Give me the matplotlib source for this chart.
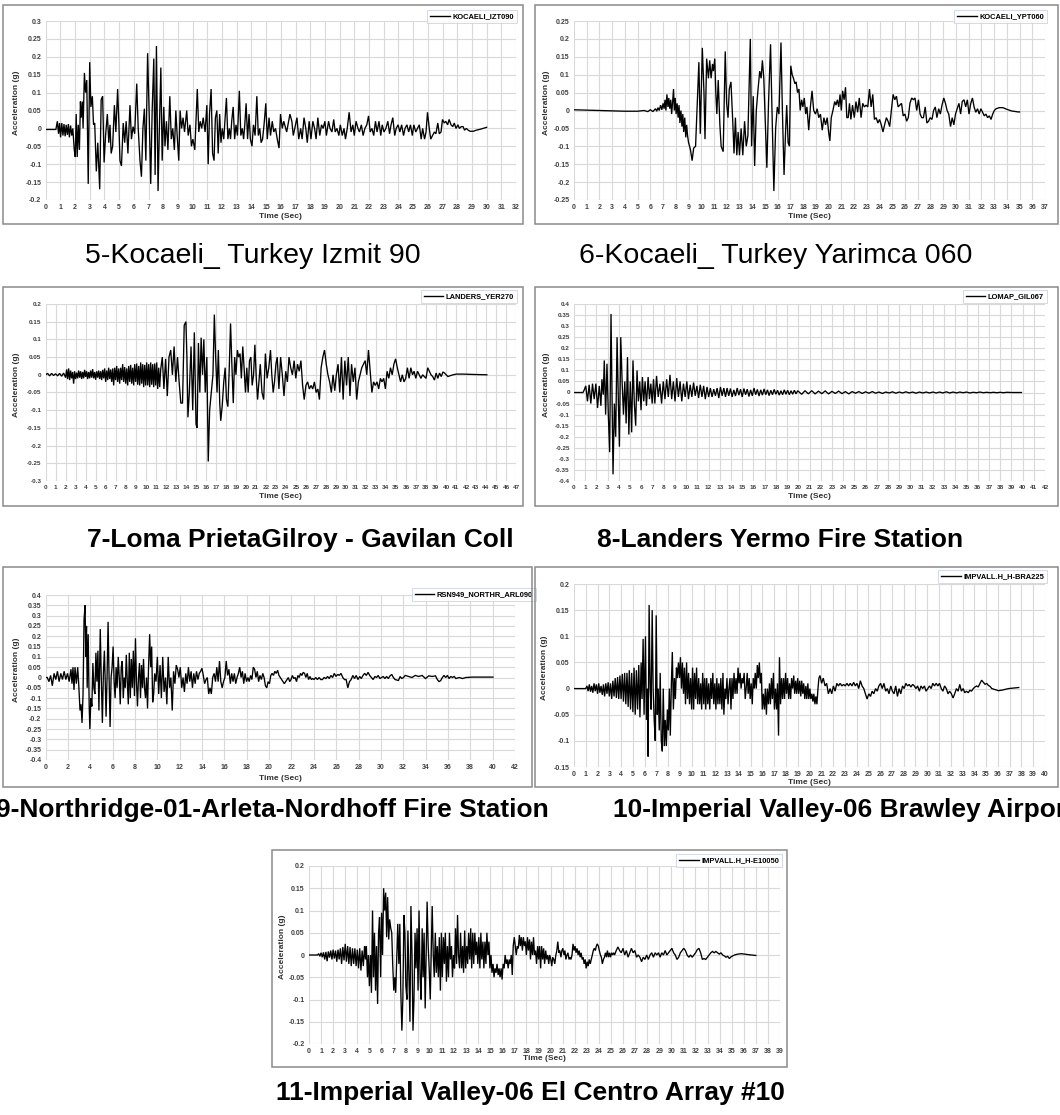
import matplotlib
matplotlib.use("Agg")
import matplotlib.pyplot as plt
from matplotlib.patches import Rectangle
from matplotlib.lines import Line2D
import numpy as np

# ---------------- data: (time s, acceleration g) ----------------
rec5 = [(0,-0.003),(0.7,-0.003),(0.8,0.02),(0.88,-0.015),(0.95,0.015),(1.02,-0.025),(1.1,0.015),(1.18,-0.02),(1.25,0.012),(1.33,-0.022),(1.4,0.01),(1.48,-0.018),(1.55,0.012),(1.62,-0.025),(1.7,0.008),(1.78,-0.02),(1.85,0.0),(1.95,-0.06),(2.02,-0.08),(2.08,0.04),(2.15,-0.08),(2.22,0.01),(2.3,-0.06),(2.37,0.075),(2.42,0.03),(2.5,0.075),(2.55,0.0),(2.64,0.155),(2.72,0.1),(2.8,0.135),(2.9,-0.155),(3.0,0.185),(3.08,0.06),(3.18,0.09),(3.26,0.01),(3.34,0.015),(3.45,-0.12),(3.55,-0.04),(3.68,-0.17),(3.78,0.08),(3.88,0.09),(3.98,-0.095),(4.08,-0.02),(4.2,0.04),(4.3,-0.04),(4.38,0.01),(4.46,-0.07),(4.56,-0.05),(4.68,0.065),(4.78,-0.01),(4.9,0.11),(4.98,0.02),(5.06,-0.09),(5.16,-0.105),(5.28,0.015),(5.38,-0.04),(5.48,0.02),(5.6,-0.07),(5.74,0.065),(5.84,-0.03),(5.95,0.005),(6.06,-0.015),(6.2,0.125),(6.3,0.0),(6.42,-0.09),(6.52,-0.135),(6.62,0.0),(6.72,0.055),(6.82,-0.09),(6.94,0.21),(7.04,0.05),(7.15,-0.155),(7.25,0.05),(7.36,0.195),(7.45,-0.13),(7.54,0.23),(7.65,-0.175),(7.74,0.0),(7.84,0.17),(7.93,-0.09),(8.04,0.06),(8.12,-0.05),(8.22,0.02),(8.32,-0.06),(8.45,0.09),(8.55,-0.03),(8.65,0.0),(8.76,-0.06),(8.86,0.05),(8.95,-0.02),(9.06,-0.09),(9.15,0.05),(9.25,0.0),(9.35,0.03),(9.45,-0.01),(9.6,0.05),(9.7,-0.02),(9.82,0.01),(9.92,-0.05),(10.02,-0.03),(10.15,-0.06),(10.32,0.11),(10.42,-0.01),(10.52,0.02),(10.62,0.0),(10.72,0.03),(10.85,-0.01),(10.97,0.065),(11.06,-0.1),(11.15,0.04),(11.26,0.11),(11.36,-0.07),(11.46,-0.09),(11.55,0.03),(11.65,0.05),(11.74,-0.07),(11.84,0.04),(11.93,-0.04),(12.02,0.0),(12.12,-0.03),(12.2,0.02),(12.3,0.085),(12.4,-0.03),(12.5,0.0),(12.58,-0.03),(12.66,0.02),(12.76,0.06),(12.86,-0.03),(12.95,0.01),(13.05,-0.02),(13.18,0.105),(13.28,-0.02),(13.38,0.0),(13.47,-0.03),(13.55,0.01),(13.64,0.07),(13.74,-0.03),(13.84,0.04),(13.93,-0.03),(14.04,-0.05),(14.14,0.01),(14.25,-0.02),(14.37,0.09),(14.47,-0.02),(14.57,0.0),(14.66,-0.04),(14.76,-0.03),(14.86,0.01),(14.98,0.07),(15.08,-0.03),(15.2,0.03),(15.3,-0.02),(15.42,0.02),(15.52,-0.01),(15.64,0.0),(15.76,-0.03),(15.88,-0.055),(15.98,0.04),(16.1,0.0),(16.2,0.02),(16.4,-0.01),(16.62,0.04),(16.75,0.02),(16.85,-0.02),(17.1,0.03),(17.22,-0.03),(17.35,0.0),(17.45,-0.03),(17.58,0.03),(17.7,0.0),(17.8,-0.04),(17.93,0.02),(18.05,-0.03),(18.18,0.02),(18.3,0.0),(18.4,-0.03),(18.52,0.03),(18.65,-0.02),(18.77,0.01),(18.88,0.0),(19.0,0.02),(19.1,-0.02),(19.25,0.02),(19.35,0.0),(19.48,-0.01),(19.6,0.025),(19.7,-0.01),(19.82,0.0),(19.95,-0.02),(20.05,0.01),(20.18,-0.02),(20.3,0.0),(20.4,-0.03),(20.52,0.0),(20.65,0.045),(20.78,-0.01),(20.9,0.01),(21.0,-0.02),(21.12,0.02),(21.25,0.0),(21.35,-0.01),(21.48,0.01),(21.6,-0.02),(21.72,0.0),(21.85,0.01),(21.97,0.035),(22.08,-0.01),(22.2,0.0),(22.32,-0.02),(22.44,0.02),(22.55,-0.01),(22.68,0.02),(22.8,-0.02),(22.9,0.01),(23.02,-0.01),(23.15,0.0),(23.28,0.02),(23.4,-0.015),(23.5,0.01),(23.62,0.03),(23.75,-0.02),(23.85,0.0),(23.98,0.01),(24.1,-0.01),(24.22,0.01),(24.35,-0.02),(24.45,0.0),(24.58,0.01),(24.7,-0.01),(24.82,0.01),(24.95,-0.02),(25.05,0.01),(25.18,-0.01),(25.3,0.0),(25.42,0.01),(25.55,-0.03),(25.65,0.0),(25.78,-0.03),(25.88,-0.01),(25.98,0.045),(26.1,0.0),(26.2,-0.03),(26.32,-0.02),(26.45,-0.01),(26.55,-0.015),(26.68,0.015),(26.78,-0.015),(26.9,-0.01),(27.0,0.025),(27.12,0.015),(27.22,0.02),(27.35,0.01),(27.45,0.025),(27.58,0.01),(27.7,0.005),(27.8,0.015),(27.92,0.0),(28.05,0.01),(28.15,0.0),(28.28,0.005),(28.4,0.005),(28.5,-0.005),(28.62,0.0),(28.75,-0.005),(28.88,-0.008),(29.1,-0.008),(29.3,-0.005),(29.6,-0.002),(30.0,0.003)]

rec6 = [(0,0.002),(2,0.0),(4,-0.002),(5,-0.002),(5.5,0.0),(5.8,-0.003),(6.0,0.002),(6.2,-0.003),(6.4,0.005),(6.5,-0.002),(6.6,0.008),(6.7,0.0),(6.8,0.015),(6.9,0.002),(7.0,0.02),(7.08,0.005),(7.15,0.03),(7.22,0.0),(7.3,0.045),(7.38,0.01),(7.45,0.035),(7.52,0.005),(7.6,0.03),(7.67,-0.01),(7.75,0.025),(7.82,0.06),(7.88,0.0),(7.95,0.035),(8.02,-0.01),(8.1,0.02),(8.18,-0.02),(8.25,0.015),(8.32,-0.035),(8.4,0.0),(8.48,-0.045),(8.55,-0.01),(8.62,-0.06),(8.7,-0.02),(8.78,-0.075),(8.85,-0.04),(8.92,-0.07),(9.0,-0.09),(9.08,-0.1),(9.15,-0.11),(9.28,-0.14),(9.4,-0.105),(9.55,-0.1),(9.73,0.06),(9.81,0.135),(9.92,-0.065),(10.08,0.175),(10.21,0.05),(10.29,-0.08),(10.42,0.145),(10.56,0.09),(10.66,0.14),(10.77,0.09),(10.88,0.13),(10.95,0.11),(11.06,0.145),(11.14,0.05),(11.22,-0.01),(11.33,0.085),(11.46,-0.04),(11.56,-0.1),(11.72,-0.115),(11.88,0.165),(11.99,0.02),(12.1,-0.02),(12.2,0.06),(12.33,0.08),(12.47,-0.03),(12.57,-0.12),(12.68,-0.02),(12.79,-0.125),(12.89,-0.06),(13.0,-0.125),(13.13,-0.05),(13.26,-0.125),(13.4,-0.03),(13.53,-0.1),(13.66,-0.07),(13.85,0.2),(13.95,-0.1),(14.08,0.04),(14.19,-0.155),(14.32,0.0),(14.46,0.06),(14.59,0.11),(14.7,0.09),(14.8,0.14),(14.91,0.09),(15.04,-0.05),(15.15,-0.16),(15.28,0.02),(15.44,0.185),(15.54,0.02),(15.7,-0.225),(15.84,-0.05),(15.97,0.01),(16.1,-0.01),(16.26,0.19),(16.37,0.0),(16.5,-0.18),(16.63,-0.05),(16.71,0.015),(16.82,-0.09),(16.92,-0.1),(17.03,0.125),(17.14,0.1),(17.24,0.09),(17.35,0.075),(17.45,0.08),(17.56,0.05),(17.67,0.06),(17.77,0.0),(17.88,0.03),(17.98,0.01),(18.09,0.035),(18.2,-0.01),(18.3,0.01),(18.44,-0.055),(18.57,0.01),(18.7,0.055),(18.83,0.0),(18.97,-0.01),(19.1,0.005),(19.23,-0.02),(19.36,-0.01),(19.5,-0.055),(19.63,-0.02),(19.76,-0.04),(19.89,-0.02),(20.0,-0.06),(20.1,-0.085),(20.21,-0.02),(20.34,0.0),(20.48,0.025),(20.58,0.015),(20.69,0.03),(20.8,0.01),(20.9,0.045),(21.0,0.0),(21.1,0.055),(21.22,0.03),(21.33,0.065),(21.43,-0.02),(21.54,-0.02),(21.64,0.02),(21.75,-0.025),(21.88,0.015),(22.02,-0.02),(22.15,0.025),(22.28,-0.005),(22.41,0.035),(22.55,-0.02),(22.68,0.02),(22.81,0.01),(22.94,0.015),(23.08,0.01),(23.21,0.06),(23.34,0.01),(23.47,0.045),(23.6,-0.025),(23.74,-0.02),(23.87,-0.035),(24.0,-0.025),(24.14,-0.04),(24.27,-0.06),(24.4,-0.04),(24.54,-0.02),(24.67,-0.03),(24.8,-0.045),(24.93,0.0),(25.07,0.045),(25.2,0.03),(25.33,0.04),(25.46,0.01),(25.6,0.015),(25.73,0.02),(25.86,-0.015),(26.0,-0.01),(26.13,-0.03),(26.26,-0.02),(26.39,0.02),(26.53,0.035),(26.66,0.03),(26.79,0.035),(26.92,0.0),(27.06,0.03),(27.19,-0.01),(27.32,-0.02),(27.45,-0.02),(27.59,0.01),(27.72,-0.035),(27.85,-0.03),(27.98,-0.02),(28.12,-0.025),(28.25,0.0),(28.38,0.01),(28.51,-0.02),(28.65,0.005),(28.78,-0.01),(28.91,0.015),(29.05,0.035),(29.18,0.02),(29.31,0.0),(29.44,-0.01),(29.58,-0.045),(29.71,-0.02),(29.84,-0.04),(29.97,-0.01),(30.1,0.005),(30.24,0.02),(30.37,-0.01),(30.5,0.025),(30.64,0.03),(30.77,0.01),(30.9,0.03),(31.03,-0.01),(31.17,0.02),(31.3,0.035),(31.43,0.01),(31.56,-0.005),(31.7,0.005),(31.83,-0.01),(31.96,0.005),(32.1,-0.005),(32.23,-0.015),(32.36,-0.01),(32.49,-0.02),(32.63,-0.015),(32.76,-0.025),(32.89,-0.01),(33.02,0.0),(33.16,0.005),(33.42,0.008),(33.69,0.008),(33.95,0.004),(34.35,-0.001),(34.88,-0.004),(35.0,-0.004)]

rec7 = [(0,0.0),(0.2,0.004),(0.4,-0.003),(0.6,0.004),(0.8,-0.002),(1.0,0.003),(1.2,-0.003),(1.4,0.004),(1.6,-0.004),(1.8,0.005),(2.0,-0.008),(2.1,0.015),(2.2,-0.012),(2.3,0.018),(2.4,-0.015),(2.5,0.012),(2.6,-0.01),(2.7,0.008),(2.8,-0.025),(2.9,0.01),(3.0,-0.012),(3.1,0.006),(3.2,-0.01),(3.3,0.012),(3.4,-0.008),(3.5,0.01),(3.6,-0.012),(3.7,0.008),(3.8,-0.01),(3.9,0.014),(4.0,-0.006),(4.1,0.01),(4.2,-0.012),(4.3,0.008),(4.4,-0.01),(4.5,0.012),(4.6,-0.008),(4.7,0.016),(4.8,-0.01),(4.9,0.008),(5.0,-0.014),(5.1,0.01),(5.2,-0.008),(5.3,0.012),(5.4,-0.012),(5.5,0.01),(5.6,-0.015),(5.7,0.014),(5.8,-0.01),(5.9,0.018),(6.0,-0.02),(6.1,0.012),(6.2,-0.015),(6.3,0.02),(6.4,-0.012),(6.5,0.015),(6.6,-0.02),(6.7,0.018),(6.8,-0.03),(6.9,0.02),(7.0,-0.015),(7.1,0.025),(7.2,-0.02),(7.3,0.018),(7.4,-0.025),(7.5,0.02),(7.6,-0.015),(7.7,0.03),(7.8,-0.02),(7.9,0.022),(8.0,-0.025),(8.1,0.018),(8.2,-0.03),(8.3,0.025),(8.4,-0.02),(8.5,0.028),(8.6,-0.025),(8.7,0.02),(8.8,-0.03),(8.9,0.03),(9.0,-0.02),(9.1,0.032),(9.2,-0.028),(9.3,0.025),(9.4,-0.03),(9.5,0.035),(9.6,-0.025),(9.7,0.03),(9.8,-0.035),(9.9,0.028),(10.0,-0.03),(10.1,0.035),(10.2,-0.03),(10.3,0.03),(10.4,-0.035),(10.5,0.035),(10.6,-0.028),(10.7,0.03),(10.8,-0.035),(10.9,0.032),(11.0,-0.03),(11.1,0.035),(11.2,-0.04),(11.3,0.02),(11.4,-0.035),(11.5,0.015),(11.66,0.05),(11.82,-0.04),(11.99,0.045),(12.16,-0.06),(12.33,0.05),(12.5,0.07),(12.67,0.0),(12.84,0.08),(13.01,-0.02),(13.18,0.05),(13.34,-0.02),(13.51,-0.08),(13.68,-0.08),(13.85,0.14),(14.02,0.15),(14.12,0.05),(14.22,-0.12),(14.36,-0.05),(14.53,0.08),(14.7,-0.1),(14.86,0.12),(15.03,-0.14),(15.14,-0.15),(15.27,0.09),(15.41,-0.05),(15.54,0.105),(15.68,0.0),(15.81,0.1),(15.95,-0.05),(16.11,0.05),(16.25,-0.245),(16.39,-0.1),(16.55,-0.05),(16.72,0.0),(16.86,0.17),(16.99,0.05),(17.13,-0.05),(17.26,0.07),(17.4,-0.08),(17.5,-0.13),(17.64,-0.09),(17.8,-0.02),(17.94,0.02),(18.07,-0.07),(18.21,-0.09),(18.34,0.01),(18.48,0.145),(18.61,0.03),(18.75,-0.08),(18.89,0.05),(19.02,0.0),(19.16,0.07),(19.29,0.05),(19.43,0.06),(19.56,-0.01),(19.7,0.08),(19.83,0.02),(19.97,-0.05),(20.1,0.02),(20.24,-0.05),(20.37,0.04),(20.51,0.05),(20.64,-0.03),(20.78,0.0),(20.91,0.085),(21.05,-0.01),(21.18,-0.07),(21.32,-0.02),(21.45,0.03),(21.62,-0.05),(21.79,-0.07),(21.96,0.06),(22.13,-0.01),(22.3,0.02),(22.47,0.07),(22.6,0.0),(22.74,-0.05),(22.87,-0.02),(23.01,0.03),(23.14,0.05),(23.31,-0.04),(23.48,0.05),(23.65,0.0),(23.82,-0.06),(23.99,0.01),(24.16,-0.02),(24.32,0.05),(24.49,0.02),(24.66,0.0),(24.83,0.04),(25.0,-0.01),(25.17,0.03),(25.34,0.01),(25.51,0.04),(25.68,-0.03),(25.84,-0.07),(26.01,-0.03),(26.18,-0.02),(26.35,-0.04),(26.52,-0.03),(26.69,-0.04),(26.86,-0.02),(27.03,-0.05),(27.2,-0.04),(27.36,-0.07),(27.53,0.02),(27.7,0.05),(27.87,0.07),(28.04,0.03),(28.21,0.0),(28.38,-0.02),(28.55,-0.05),(28.72,0.0),(28.89,-0.045),(29.05,0.0),(29.22,0.03),(29.39,-0.05),(29.56,0.05),(29.73,-0.07),(29.9,0.04),(30.07,-0.03),(30.24,0.05),(30.41,-0.06),(30.57,0.03),(30.74,-0.02),(30.91,0.02),(31.08,-0.07),(31.25,-0.02),(31.42,0.0),(31.59,0.02),(31.76,0.03),(31.93,0.04),(32.09,0.0),(32.26,0.07),(32.43,0.01),(32.6,-0.05),(32.77,-0.02),(32.94,-0.03),(33.11,-0.02),(33.28,-0.04),(33.45,-0.01),(33.61,-0.02),(33.78,-0.01),(33.95,-0.04),(34.12,0.01),(34.29,-0.01),(34.46,0.02),(34.63,0.0),(34.8,0.03),(34.97,0.045),(35.14,0.02),(35.3,0.0),(35.47,-0.02),(35.64,0.0),(35.81,-0.02),(35.98,-0.01),(36.15,0.02),(36.32,-0.01),(36.49,0.02),(36.66,0.0),(36.82,0.01),(36.99,-0.01),(37.16,0.01),(37.33,0.0),(37.5,-0.01),(37.67,0.0),(38.01,-0.01),(38.18,0.02),(38.34,0.01),(38.51,0.0),(38.68,-0.005),(38.85,-0.015),(39.02,0.005),(39.19,-0.01),(39.36,0.005),(39.53,-0.005),(39.7,0.008),(39.86,0.005),(40.03,0.0),(40.2,-0.005),(40.37,-0.003),(40.71,0.0),(41.05,0.002),(41.72,0.002),(42.74,0.001),(44.09,0.0)]

rec8 = [(0,0.0),(0.8,0.0),(0.9,0.01),(1.05,0.03),(1.2,-0.04),(1.35,0.035),(1.5,-0.05),(1.65,0.04),(1.8,-0.03),(1.95,0.04),(2.1,-0.07),(2.25,0.03),(2.4,-0.06),(2.49,0.06),(2.61,-0.01),(2.7,0.145),(2.82,-0.1),(2.94,0.13),(3.06,-0.1),(3.18,-0.27),(3.3,0.355),(3.39,0.0),(3.48,-0.37),(3.6,-0.05),(3.72,-0.2),(3.84,0.25),(3.96,-0.05),(4.05,-0.245),(4.17,0.25),(4.29,0.05),(4.41,-0.1),(4.53,0.05),(4.65,-0.14),(4.77,0.16),(4.89,-0.19),(5.02,0.05),(5.14,-0.18),(5.26,0.145),(5.38,-0.05),(5.5,-0.15),(5.62,0.1),(5.74,-0.04),(5.86,0.05),(5.98,-0.08),(6.1,0.07),(6.22,-0.04),(6.34,0.05),(6.46,-0.06),(6.61,0.07),(6.73,-0.03),(6.85,0.04),(6.97,-0.05),(7.09,0.06),(7.21,-0.05),(7.36,0.075),(7.51,-0.02),(7.66,0.04),(7.81,-0.05),(7.96,0.05),(8.11,-0.03),(8.26,0.06),(8.41,-0.02),(8.56,0.08),(8.71,-0.03),(8.86,0.05),(9.01,-0.04),(9.16,0.065),(9.31,-0.02),(9.46,0.05),(9.61,-0.04),(9.76,0.04),(9.91,-0.02),(10.06,0.05),(10.21,-0.03),(10.36,0.035),(10.51,-0.02),(10.66,0.045),(10.81,-0.015),(10.96,0.03),(11.11,-0.025),(11.26,0.035),(11.41,-0.02),(11.56,0.03),(11.71,-0.03),(11.86,0.025),(12.01,-0.02),(12.16,0.02),(12.31,-0.02),(12.46,0.015),(12.61,-0.015),(12.76,0.02),(12.91,-0.025),(13.06,0.025),(13.21,-0.015),(13.36,0.02),(13.51,-0.02),(13.65,0.02),(13.8,-0.015),(13.95,0.018),(14.1,-0.02),(14.25,0.012),(14.4,-0.016),(14.55,0.02),(14.7,-0.012),(14.85,0.015),(15.0,-0.02),(15.15,0.018),(15.3,-0.01),(15.45,0.015),(15.6,-0.018),(15.75,0.012),(15.9,-0.015),(16.05,0.02),(16.2,-0.01),(16.35,0.014),(16.5,-0.016),(16.65,0.012),(16.8,-0.012),(16.95,0.016),(17.1,-0.01),(17.25,0.012),(17.4,-0.014),(17.55,0.01),(17.7,-0.01),(17.85,0.014),(18.0,-0.008),(18.15,0.01),(18.3,-0.012),(18.45,0.008),(18.6,-0.01),(18.75,0.012),(18.9,-0.008),(19.05,0.01),(19.2,-0.01),(19.35,0.008),(19.5,-0.008),(19.65,0.01),(19.8,-0.006),(19.95,0.008),(20.3,-0.008),(20.6,0.008),(20.9,-0.006),(21.2,0.008),(21.5,-0.006),(21.8,0.006),(22.1,-0.005),(22.4,0.007),(22.7,-0.006),(23.0,0.005),(23.3,-0.004),(23.6,0.006),(23.9,-0.005),(24.2,0.004),(24.5,-0.006),(24.8,0.004),(25.1,-0.003),(25.4,0.004),(25.7,-0.004),(26.0,0.003),(26.3,-0.003),(26.6,0.004),(26.9,-0.003),(27.2,0.002),(27.5,-0.004),(27.8,0.002),(28.1,-0.002),(28.4,0.003),(28.7,-0.003),(29.0,0.002),(29.3,-0.002),(29.6,0.003),(29.9,-0.002),(30.2,0.002),(30.5,-0.003),(30.8,0.002),(31.1,-0.002),(31.4,0.002),(31.7,-0.002),(32.0,0.002),(32.3,-0.002),(32.6,0.002),(32.9,-0.002),(33.2,0.003),(33.5,-0.002),(33.8,0.002),(34.1,-0.002),(34.4,0.002),(34.7,-0.001),(35.0,0.002),(35.3,-0.002),(35.6,0.001),(35.9,-0.001),(36.2,0.002),(36.5,-0.001),(36.8,0.001),(37.1,-0.001),(37.4,0.001),(37.7,-0.001),(38.0,0.001),(38.3,-0.001),(38.6,0.001),(39.0,0.0),(39.9,0.0)]

rec9 = [(0,0.0),(0.15,0.0),(0.3,-0.02),(0.45,0.01),(0.6,-0.04),(0.76,0.02),(0.91,-0.01),(1.06,0.03),(1.21,-0.02),(1.36,0.02),(1.51,-0.01),(1.66,0.03),(1.81,-0.01),(1.96,0.02),(2.11,-0.02),(2.27,0.04),(2.36,-0.03),(2.45,0.05),(2.54,-0.06),(2.63,0.05),(2.75,-0.03),(2.87,0.05),(2.96,-0.03),(3.08,-0.16),(3.17,-0.13),(3.26,-0.22),(3.35,-0.08),(3.44,0.28),(3.53,0.35),(3.6,0.1),(3.66,0.25),(3.72,-0.05),(3.81,0.21),(3.9,-0.14),(3.96,-0.25),(4.05,-0.1),(4.14,-0.14),(4.23,0.07),(4.32,-0.05),(4.41,-0.08),(4.5,0.12),(4.59,-0.02),(4.68,0.13),(4.77,-0.16),(4.89,0.235),(4.98,0.0),(5.08,-0.22),(5.17,0.02),(5.26,0.13),(5.35,-0.05),(5.41,-0.19),(5.5,0.0),(5.59,0.27),(5.68,0.0),(5.77,-0.24),(5.86,0.0),(5.95,0.05),(6.04,0.15),(6.13,-0.02),(6.22,-0.1),(6.31,0.05),(6.4,-0.05),(6.5,0.1),(6.59,0.0),(6.68,-0.13),(6.77,0.05),(6.86,0.08),(6.95,-0.1),(7.04,0.0),(7.13,-0.05),(7.22,0.11),(7.31,-0.02),(7.4,-0.13),(7.49,0.12),(7.58,-0.1),(7.67,0.09),(7.76,-0.05),(7.85,0.13),(7.95,-0.09),(8.04,0.19),(8.13,-0.02),(8.22,-0.14),(8.31,0.0),(8.4,0.07),(8.49,-0.1),(8.58,0.06),(8.67,-0.05),(8.76,0.09),(8.85,-0.05),(8.94,-0.1),(9.03,0.0),(9.12,-0.15),(9.21,0.05),(9.31,0.21),(9.4,0.05),(9.49,0.15),(9.58,-0.12),(9.67,-0.08),(9.76,0.02),(9.88,-0.02),(10.0,0.1),(10.12,-0.08),(10.24,0.06),(10.36,-0.1),(10.48,0.1),(10.6,-0.07),(10.73,0.0),(10.85,-0.13),(10.97,0.1),(11.09,-0.05),(11.21,0.0),(11.33,-0.16),(11.45,0.03),(11.57,-0.03),(11.69,0.06),(11.81,0.04),(11.93,0.0),(12.05,0.05),(12.18,-0.05),(12.3,0.0),(12.42,-0.07),(12.54,0.02),(12.66,-0.03),(12.78,0.05),(12.9,-0.02),(13.02,0.03),(13.14,-0.05),(13.26,0.02),(13.38,-0.03),(13.5,0.03),(13.63,-0.01),(13.75,0.02),(13.87,0.03),(13.99,0.045),(14.11,0.01),(14.23,-0.03),(14.35,-0.01),(14.47,0.0),(14.59,-0.08),(14.71,-0.05),(14.83,-0.08),(14.95,0.0),(15.08,0.02),(15.2,-0.02),(15.32,0.05),(15.44,-0.02),(15.56,0.08),(15.68,-0.02),(15.8,-0.05),(15.92,-0.02),(16.04,0.0),(16.16,0.08),(16.28,0.01),(16.4,0.04),(16.53,-0.03),(16.65,0.02),(16.77,-0.02),(16.89,0.02),(17.01,-0.03),(17.13,0.0),(17.25,0.02),(17.37,0.05),(17.49,0.0),(17.61,0.03),(17.73,-0.03),(17.85,0.02),(17.98,-0.02),(18.1,0.0),(18.22,-0.02),(18.34,0.01),(18.46,-0.01),(18.58,0.05),(18.7,0.04),(18.82,0.0),(18.94,0.03),(19.06,-0.02),(19.18,0.01),(19.31,-0.01),(19.43,0.02),(19.55,0.0),(19.67,-0.04),(19.79,-0.05),(19.91,-0.02),(20.03,-0.03),(20.15,0.01),(20.27,0.02),(20.39,0.01),(20.51,0.03),(20.63,0.02),(20.76,0.035),(20.88,0.01),(21.0,0.0),(21.12,-0.01),(21.24,-0.02),(21.36,-0.03),(21.48,-0.02),(21.6,-0.01),(21.72,0.0),(21.84,-0.02),(21.96,-0.01),(22.08,0.01),(22.21,-0.005),(22.33,0.0),(22.45,-0.02),(22.57,0.01),(22.69,0.0),(22.81,0.02),(22.93,0.01),(23.05,0.025),(23.17,0.02),(23.29,0.0),(23.41,0.02),(23.53,-0.01),(23.66,0.005),(23.78,-0.01),(23.9,-0.005),(24.02,-0.01),(24.17,0.0),(24.32,-0.01),(24.47,0.0),(24.62,-0.01),(24.77,-0.01),(24.92,0.0),(25.08,-0.005),(25.23,0.005),(25.38,-0.005),(25.53,0.01),(25.68,0.0),(25.83,0.02),(25.98,0.005),(26.13,0.015),(26.28,0.01),(26.43,0.02),(26.59,0.0),(26.74,-0.01),(26.89,-0.01),(27.04,-0.05),(27.19,-0.02),(27.34,-0.01),(27.49,0.01),(27.64,-0.005),(27.79,0.01),(27.95,-0.01),(28.1,0.005),(28.25,-0.005),(28.4,0.01),(28.55,0.02),(28.7,0.01),(28.85,0.025),(29.0,0.01),(29.15,0.0),(29.31,-0.01),(29.46,0.005),(29.61,0.0),(29.76,0.01),(29.91,-0.005),(30.06,0.0),(30.21,0.005),(30.36,-0.005),(30.51,0.005),(30.66,-0.005),(30.82,0.008),(30.97,0.015),(31.12,0.0),(31.27,-0.01),(31.42,-0.012),(31.57,-0.015),(31.72,0.005),(31.87,-0.005),(32.02,0.0),(32.18,0.01),(32.48,0.005),(32.78,0.0),(33.08,0.01),(33.38,0.005),(33.69,0.01),(33.99,-0.005),(34.29,0.008),(34.59,0.005),(34.89,0.008),(35.05,-0.01),(35.2,-0.02),(35.35,-0.015),(35.5,0.0),(35.65,0.01),(35.8,0.0),(35.95,0.01),(36.1,-0.005),(36.25,0.005),(36.4,0.0),(36.56,0.005),(36.71,-0.005),(37.01,0.0),(37.31,-0.005),(37.61,0.0),(38.22,0.002),(40.03,0.002)]

rec10 = [(0,0.0),(1.0,0.0),(1.1,0.005),(1.2,-0.005),(1.3,0.008),(1.4,-0.006),(1.5,0.005),(1.6,-0.008),(1.7,0.01),(1.8,-0.005),(1.9,0.008),(2.0,-0.01),(2.1,0.01),(2.2,-0.008),(2.3,0.005),(2.4,-0.012),(2.5,0.008),(2.6,-0.015),(2.7,0.01),(2.8,-0.01),(2.9,0.012),(3.0,-0.015),(3.1,0.01),(3.2,-0.02),(3.3,0.015),(3.4,-0.015),(3.5,0.02),(3.6,-0.018),(3.7,0.022),(3.8,-0.02),(3.9,0.025),(4.0,-0.02),(4.1,0.028),(4.2,-0.025),(4.3,0.03),(4.4,-0.03),(4.5,0.03),(4.6,-0.035),(4.7,0.035),(4.8,-0.04),(4.9,0.03),(5.0,-0.045),(5.1,0.04),(5.2,-0.05),(5.3,0.035),(5.4,-0.04),(5.5,0.045),(5.6,-0.055),(5.7,0.05),(5.78,-0.02),(5.87,0.095),(5.95,-0.05),(6.07,0.1),(6.15,-0.06),(6.24,0.0),(6.29,-0.13),(6.38,0.16),(6.47,0.0),(6.55,-0.04),(6.64,0.15),(6.72,0.0),(6.81,-0.06),(6.9,-0.1),(6.98,0.14),(7.07,-0.05),(7.15,0.0),(7.24,-0.08),(7.32,0.03),(7.41,-0.1),(7.5,-0.12),(7.58,0.0),(7.67,-0.11),(7.75,-0.06),(7.84,-0.11),(7.93,-0.04),(8.01,-0.08),(8.1,0.0),(8.18,-0.09),(8.27,0.01),(8.35,0.07),(8.44,-0.04),(8.53,0.02),(8.61,-0.02),(8.7,0.04),(8.78,0.02),(8.87,0.05),(8.96,0.02),(9.04,0.06),(9.13,0.0),(9.21,0.05),(9.3,-0.01),(9.38,0.04),(9.47,-0.03),(9.56,0.05),(9.64,-0.02),(9.73,0.03),(9.81,-0.03),(9.9,0.02),(9.99,-0.04),(10.07,0.04),(10.16,-0.04),(10.24,0.03),(10.33,-0.02),(10.41,0.04),(10.5,-0.03),(10.59,0.02),(10.67,-0.03),(10.76,0.01),(10.84,-0.04),(10.93,0.03),(11.02,-0.03),(11.1,0.02),(11.19,-0.04),(11.27,0.02),(11.36,-0.03),(11.44,0.01),(11.53,-0.04),(11.62,0.02),(11.7,-0.02),(11.79,0.03),(11.87,-0.03),(11.96,0.01),(12.05,-0.04),(12.13,0.02),(12.22,-0.03),(12.3,0.01),(12.39,-0.03),(12.47,0.02),(12.56,-0.04),(12.65,0.03),(12.73,-0.05),(12.82,0.0),(12.9,-0.02),(12.99,0.02),(13.08,-0.03),(13.16,0.0),(13.25,0.02),(13.33,-0.04),(13.42,0.02),(13.5,-0.02),(13.59,0.03),(13.68,-0.01),(13.76,0.02),(13.85,-0.01),(13.93,0.04),(14.02,0.01),(14.11,0.03),(14.19,0.0),(14.28,0.02),(14.36,0.01),(14.45,0.03),(14.54,-0.02),(14.62,0.0),(14.71,0.03),(14.79,-0.01),(14.88,0.02),(14.96,-0.02),(15.05,0.01),(15.14,-0.03),(15.22,0.02),(15.31,0.0),(15.39,0.03),(15.48,0.0),(15.57,0.045),(15.65,0.02),(15.74,0.05),(15.82,0.01),(15.91,0.03),(15.99,-0.04),(16.08,-0.01),(16.17,-0.04),(16.25,0.0),(16.34,-0.05),(16.42,0.0),(16.51,-0.03),(16.6,0.01),(16.68,-0.03),(16.77,0.02),(16.85,-0.02),(16.94,0.03),(17.02,-0.04),(17.11,0.0),(17.2,-0.04),(17.28,0.01),(17.37,-0.09),(17.45,0.06),(17.54,-0.03),(17.63,0.02),(17.71,-0.02),(17.8,0.02),(17.88,-0.02),(17.97,0.03),(18.05,-0.01),(18.14,0.02),(18.23,-0.02),(18.31,0.01),(18.4,-0.02),(18.48,0.02),(18.57,0.0),(18.66,0.025),(18.74,-0.01),(18.83,0.015),(18.91,-0.01),(19.0,0.02),(19.08,-0.01),(19.17,0.015),(19.26,-0.015),(19.34,0.015),(19.43,-0.01),(19.51,0.01),(19.6,-0.02),(19.69,0.005),(19.77,-0.02),(19.86,0.01),(19.94,-0.02),(20.03,0.0),(20.11,-0.02),(20.2,-0.01),(20.29,-0.025),(20.37,-0.01),(20.46,-0.03),(20.54,-0.015),(20.63,-0.03),(20.72,0.0),(20.8,0.02),(20.89,0.025),(21.03,0.01),(21.17,0.02),(21.32,0.005),(21.46,0.01),(21.6,-0.01),(21.75,0.0),(21.89,-0.01),(22.03,0.005),(22.17,-0.005),(22.32,0.01),(22.46,0.005),(22.6,0.01),(22.75,0.005),(22.89,0.008),(23.03,0.005),(23.18,0.01),(23.32,0.005),(23.46,0.01),(23.61,0.005),(23.75,0.012),(23.89,0.005),(24.03,0.01),(24.18,0.0),(24.32,0.015),(24.46,0.005),(24.61,0.0),(24.75,-0.01),(24.89,-0.02),(25.04,-0.01),(25.18,-0.015),(25.32,-0.005),(25.46,-0.01),(25.61,0.0),(25.75,-0.005),(25.89,0.005),(26.04,0.01),(26.18,0.0),(26.32,0.01),(26.47,-0.005),(26.61,0.0),(26.75,-0.01),(26.9,0.005),(27.04,-0.005),(27.18,-0.01),(27.32,0.005),(27.47,-0.015),(27.61,0.0),(27.75,-0.01),(27.9,0.005),(28.04,0.0),(28.18,0.01),(28.33,0.005),(28.47,0.008),(28.61,0.003),(28.76,0.008),(28.9,0.005),(29.04,0.0),(29.18,0.005),(29.33,-0.005),(29.47,0.005),(29.61,0.0),(29.76,0.005),(29.9,-0.005),(30.04,0.0),(30.19,0.005),(30.33,0.0),(30.47,0.01),(30.62,0.005),(30.76,0.01),(30.9,0.005),(31.04,0.01),(31.19,0.0),(31.33,-0.005),(31.47,0.005),(31.62,0.0),(31.76,-0.01),(31.9,-0.005),(32.05,-0.01),(32.19,-0.018),(32.33,-0.01),(32.48,0.0),(32.62,-0.005),(32.76,0.008),(32.9,-0.005),(33.05,0.0),(33.19,-0.008),(33.33,-0.005),(33.48,-0.008),(33.62,-0.003),(33.76,-0.005),(33.91,0.0),(34.05,0.003),(34.19,0.005),(34.33,0.003),(34.48,0.01),(34.62,0.016),(34.76,0.012),(34.91,0.008),(35.05,0.01),(35.19,0.006),(35.34,0.004),(35.48,0.0),(35.77,-0.002),(36.05,-0.004),(36.34,-0.003),(36.91,0.0),(37.77,0.002)]

rec11 = [(0,0.0),(0.7,0.0),(0.8,0.003),(0.9,-0.003),(1.0,0.005),(1.1,-0.005),(1.2,0.006),(1.3,-0.01),(1.4,0.007),(1.5,-0.014),(1.6,0.008),(1.7,-0.006),(1.8,0.01),(1.9,-0.01),(2.0,0.012),(2.1,-0.008),(2.2,0.01),(2.3,-0.015),(2.4,0.012),(2.5,-0.01),(2.6,0.015),(2.7,-0.02),(2.8,0.018),(2.9,-0.012),(3.0,0.025),(3.1,-0.015),(3.2,0.02),(3.3,-0.02),(3.4,0.018),(3.5,-0.025),(3.6,0.015),(3.7,-0.02),(3.8,0.015),(3.9,-0.025),(4.0,0.012),(4.1,-0.03),(4.2,0.015),(4.3,-0.035),(4.4,0.01),(4.5,-0.025),(4.6,0.02),(4.68,-0.01),(4.75,0.02),(4.84,-0.05),(4.92,0.0),(5.0,-0.07),(5.09,0.0),(5.17,-0.085),(5.26,0.1),(5.34,-0.05),(5.42,0.05),(5.51,-0.08),(5.59,0.02),(5.68,-0.11),(5.76,0.05),(5.84,0.085),(5.93,-0.05),(6.01,0.095),(6.09,0.0),(6.18,0.15),(6.26,0.1),(6.35,0.14),(6.43,0.04),(6.51,0.13),(6.6,0.035),(6.68,0.08),(6.77,0.06),(6.85,0.05),(6.93,-0.02),(7.02,-0.08),(7.1,-0.05),(7.18,-0.085),(7.27,0.0),(7.35,0.07),(7.44,-0.02),(7.52,0.07),(7.6,-0.08),(7.69,-0.17),(7.77,-0.1),(7.86,0.09),(7.94,0.05),(8.02,-0.07),(8.11,-0.1),(8.19,0.055),(8.28,-0.05),(8.36,-0.15),(8.44,0.11),(8.53,0.0),(8.61,-0.17),(8.69,-0.1),(8.78,0.05),(8.86,-0.03),(8.95,0.06),(9.03,-0.08),(9.11,0.1),(9.2,-0.05),(9.28,-0.1),(9.37,0.06),(9.45,-0.05),(9.53,0.05),(9.62,-0.12),(9.7,0.0),(9.78,0.12),(9.87,0.02),(9.95,-0.03),(10.04,-0.1),(10.12,0.0),(10.2,0.11),(10.29,0.0),(10.37,-0.05),(10.46,0.05),(10.54,-0.04),(10.62,0.02),(10.71,-0.05),(10.79,0.04),(10.88,-0.08),(10.96,0.05),(11.04,-0.05),(11.13,0.04),(11.21,-0.02),(11.29,0.05),(11.38,-0.06),(11.46,0.02),(11.55,-0.05),(11.63,0.05),(11.71,-0.01),(11.8,0.02),(11.88,-0.05),(11.97,0.0),(12.05,-0.03),(12.13,0.06),(12.22,-0.02),(12.3,0.09),(12.38,0.0),(12.47,-0.03),(12.55,0.05),(12.64,-0.03),(12.72,0.02),(12.8,-0.04),(12.89,0.055),(12.97,-0.03),(13.06,0.02),(13.14,-0.02),(13.22,0.05),(13.31,-0.01),(13.39,0.06),(13.47,-0.03),(13.56,0.05),(13.64,-0.02),(13.73,0.05),(13.81,0.0),(13.89,0.03),(13.98,-0.02),(14.06,0.04),(14.15,-0.03),(14.23,0.05),(14.31,-0.01),(14.4,0.03),(14.48,-0.03),(14.57,0.03),(14.65,-0.02),(14.73,0.05),(14.82,0.0),(14.9,0.03),(14.98,-0.03),(15.07,0.0),(15.15,-0.04),(15.24,-0.02),(15.32,-0.05),(15.4,-0.03),(15.49,-0.04),(15.57,-0.02),(15.66,-0.045),(15.74,-0.03),(15.82,-0.05),(15.91,-0.03),(15.99,-0.055),(16.07,-0.02),(16.16,-0.03),(16.24,0.0),(16.33,-0.02),(16.41,-0.01),(16.49,-0.03),(16.58,-0.01),(16.66,-0.02),(16.75,0.0),(16.83,-0.045),(16.91,0.02),(17.0,0.04),(17.08,0.02),(17.16,0.0),(17.25,0.02),(17.33,0.015),(17.42,0.045),(17.5,0.02),(17.58,0.04),(17.67,0.01),(17.75,0.04),(17.84,0.02),(17.92,0.03),(18.0,0.0),(18.09,0.04),(18.17,0.01),(18.26,0.035),(18.34,-0.01),(18.42,0.03),(18.51,0.0),(18.59,0.04),(18.67,0.0),(18.76,0.01),(18.84,-0.02),(18.93,0.02),(19.01,-0.01),(19.09,0.02),(19.18,-0.03),(19.26,0.02),(19.35,-0.01),(19.43,0.015),(19.51,-0.02),(19.6,0.01),(19.68,-0.01),(19.77,0.0),(19.85,-0.02),(19.93,0.0),(20.02,-0.01),(20.1,-0.025),(20.18,-0.005),(20.27,-0.01),(20.35,-0.02),(20.44,0.0),(20.52,0.01),(20.6,0.03),(20.69,0.005),(20.77,0.01),(20.86,-0.005),(20.94,0.01),(21.02,0.015),(21.11,0.0),(21.19,0.01),(21.27,-0.01),(21.36,0.0),(21.44,0.005),(21.53,-0.01),(21.61,-0.005),(21.69,-0.01),(21.78,0.0),(21.86,0.025),(21.95,0.01),(22.03,0.02),(22.11,0.005),(22.2,0.015),(22.28,0.0),(22.37,0.01),(22.45,-0.005),(22.53,0.005),(22.62,-0.01),(22.7,-0.005),(22.78,-0.02),(22.87,-0.01),(22.95,-0.03),(23.04,-0.015),(23.12,-0.025),(23.2,-0.01),(23.29,-0.02),(23.37,-0.01),(23.46,0.0),(23.54,0.01),(23.62,0.015),(23.71,0.01),(23.79,0.02),(23.87,0.025),(23.96,0.02),(24.04,0.01),(24.13,0.0),(24.21,-0.005),(24.29,-0.02),(24.38,-0.01),(24.46,-0.005),(24.55,0.005),(24.63,-0.005),(24.71,0.01),(24.8,-0.005),(24.88,0.005),(24.96,-0.005),(25.05,0.005),(25.13,0.0),(25.22,0.005),(25.3,0.0),(25.44,0.01),(25.58,0.018),(25.72,0.01),(25.86,0.005),(26.0,0.015),(26.14,0.0),(26.28,0.01),(26.42,-0.005),(26.56,0.005),(26.7,0.015),(26.84,0.005),(26.98,0.01),(27.12,-0.005),(27.26,0.0),(27.4,-0.005),(27.54,-0.015),(27.68,-0.005),(27.82,-0.01),(27.96,0.0),(28.1,-0.01),(28.24,0.0),(28.38,0.005),(28.52,-0.005),(28.66,0.005),(28.8,0.0),(28.94,0.005),(29.07,-0.005),(29.21,0.005),(29.35,0.0),(29.49,0.01),(29.63,0.0),(29.77,0.005),(29.91,0.01),(30.05,0.015),(30.19,0.005),(30.33,0.0),(30.47,-0.01),(30.61,-0.005),(30.75,0.005),(30.89,0.01),(31.03,0.015),(31.17,0.01),(31.31,0.0),(31.45,-0.005),(31.59,0.0),(31.73,-0.005),(31.87,0.0),(32.01,0.005),(32.15,0.012),(32.29,0.015),(32.43,0.005),(32.57,-0.01),(32.71,-0.008),(32.85,-0.01),(32.99,-0.005),(33.13,0.0),(33.27,0.005),(33.41,0.008),(33.55,0.005),(33.69,0.008),(33.83,0.005),(33.97,0.002),(34.11,0.005),(34.25,0.0),(34.39,-0.002),(34.53,-0.005),(34.67,-0.003),(34.81,-0.008),(34.95,-0.004),(35.09,-0.002),(35.23,0.0),(35.5,0.002),(35.78,0.003),(36.06,0.002),(36.62,0.0),(37.0,-0.001)]

legend_names = ["KOCAELI_IZT090", "KOCAELI_YPT060", "LANDERS_YER270", "LOMAP_GIL067",
                "RSN949_NORTHR_ARL090", "IMPVALL.H_H-BRA225", "IMPVALL.H_H-E10050"]
captions = ["5-Kocaeli_ Turkey Izmit 90", "6-Kocaeli_ Turkey Yarimca 060",
            "7-Loma PrietaGilroy - Gavilan Coll", "8-Landers Yermo Fire Station",
            "9-Northridge-01-Arleta-Nordhoff Fire Station", "10-Imperial Valley-06 Brawley Airport",
            "11-Imperial Valley-06 El Centro Array #10"]
# axis ranges: (x max, x tick step) and (y min, y max)
x_ranges = [(32, 1), (37, 1), (47, 1), (42, 1), (42, 2), (40, 1), (39, 1)]
y_ranges = [(-0.2, 0.3), (-0.25, 0.25), (-0.3, 0.2), (-0.4, 0.4), (-0.4, 0.4), (-0.15, 0.2), (-0.2, 0.2)]
records = [rec5, rec6, rec7, rec8, rec9, rec10, rec11]

# ---------------- layout (pixels) ----------------
W, H = 1060, 1115
fig = plt.figure(figsize=(W / 100, H / 100), dpi=100)
fig.patch.set_facecolor("white")
FONT = "Liberation Sans"

def fx(x):
    return x / W

def fy(y):
    return 1 - y / H

layout = [
    dict(ax=(45.6, 21, 516, 200), frame=(3, 5, 523, 224), leg=(517, 10), ylab_x=17, xlab_y=216, tick_fs=5.0),
    dict(ax=(574, 21, 1045, 200), frame=(535, 5, 1058, 224), leg=(1047, 10), ylab_x=547, xlab_y=216, tick_fs=5.0),
    dict(ax=(45.6, 304, 516, 481), frame=(3, 287, 523, 506), leg=(517, 290), ylab_x=17, xlab_y=497, tick_fs=4.6),
    dict(ax=(574, 304, 1045, 481), frame=(535, 287, 1058, 506), leg=(1047, 290), ylab_x=547, xlab_y=497, tick_fs=4.6),
    dict(ax=(45.6, 595, 515, 760), frame=(3, 567, 532, 787), leg=(536, 588), ylab_x=17, xlab_y=779, tick_fs=5.0),
    dict(ax=(574, 584, 1045, 767), frame=(535, 567, 1058, 787), leg=(1047, 570), ylab_x=545, xlab_y=782, tick_fs=5.0),
    dict(ax=(309, 866, 780, 1044), frame=(272, 850, 787, 1067), leg=(782, 854), ylab_x=282, xlab_y=1058, tick_fs=5.0),
]
caption_pos = [(253, 256, "normal", 20.5), (776, 256, "normal", 20.5), (300, 540, "bold", 19),
               (780, 540, "bold", 19), (272, 810, "bold", 19), (844, 810, "bold", 19),
               (530, 1093, "bold", 19)]

for i in range(7):
    L = layout[i]
    l, t, r, b = L["ax"]
    ax = fig.add_axes([fx(l), fy(b), (r - l) / W, (b - t) / H])
    ts = [p[0] for p in records[i]]
    vs = [p[1] for p in records[i]]
    ax.plot(ts, vs, color="black", lw=0.95, zorder=3, solid_joinstyle="miter")
    xmax, xstep = x_ranges[i]
    ymin, ymax = y_ranges[i]
    ax.set_xlim(0, xmax)
    ax.set_ylim(ymin, ymax)
    xt = np.arange(0, xmax + 0.001, xstep)
    yt = np.round(np.arange(ymin, ymax + 0.0001, 0.05), 2)
    ax.set_xticks(xt)
    ax.set_xticklabels([str(int(v)) for v in xt])
    ax.set_yticks(yt)
    ax.set_yticklabels([("%g" % v) if abs(v) > 1e-9 else "0" for v in yt])
    ax.grid(True, color="#d9d9d9", lw=0.8, zorder=0)
    ax.set_axisbelow(True)
    for s in ax.spines.values():
        s.set_visible(False)
    ax.tick_params(length=0, pad=3.0, labelsize=L["tick_fs"], labelcolor="#404040")
    for lab in ax.get_xticklabels() + ax.get_yticklabels():
        lab.set_fontfamily(FONT)
        lab.set_fontweight("bold")
    fig.text(fx((l + r) / 2), fy(L["xlab_y"]), "Time (Sec)", ha="center", va="center",
             fontsize=6.0, fontweight="bold", family=FONT, color="#333333")
    fig.text(fx(L["ylab_x"]), fy((t + b) / 2 - 8), "Acceleration (g)", ha="center", va="center",
             rotation=90, fontsize=6.0, fontweight="bold", family=FONT, color="#333333")
    h = Line2D([], [], color="black", lw=1.0)
    lx, ly = L["leg"]
    leg = ax.legend([h], [legend_names[i]], loc="upper right", bbox_to_anchor=(fx(lx), fy(ly)),
                    bbox_transform=fig.transFigure, frameon=True, fancybox=False, borderpad=0.4,
                    handlelength=2.6, handletextpad=0.35, borderaxespad=0,
                    prop={"family": FONT, "weight": "bold", "size": 5.4})
    leg.get_frame().set_edgecolor("#c8d0e2")
    leg.get_frame().set_linewidth(0.7)
    leg.set_zorder(5)
    fl, ft, fr, fb = L["frame"]
    fig.add_artist(Rectangle((fx(fl), fy(fb)), (fr - fl) / W, (fb - ft) / H, transform=fig.transFigure,
                             fill=False, edgecolor="#8a8a8a", lw=1.1))
    cx, cy, wt, fs = caption_pos[i]
    fig.text(fx(cx), fy(cy), captions[i], ha="center", va="center", fontsize=fs,
             fontweight=wt, family=FONT, color="black")

fig.savefig("out.png", dpi=100, facecolor="white")
